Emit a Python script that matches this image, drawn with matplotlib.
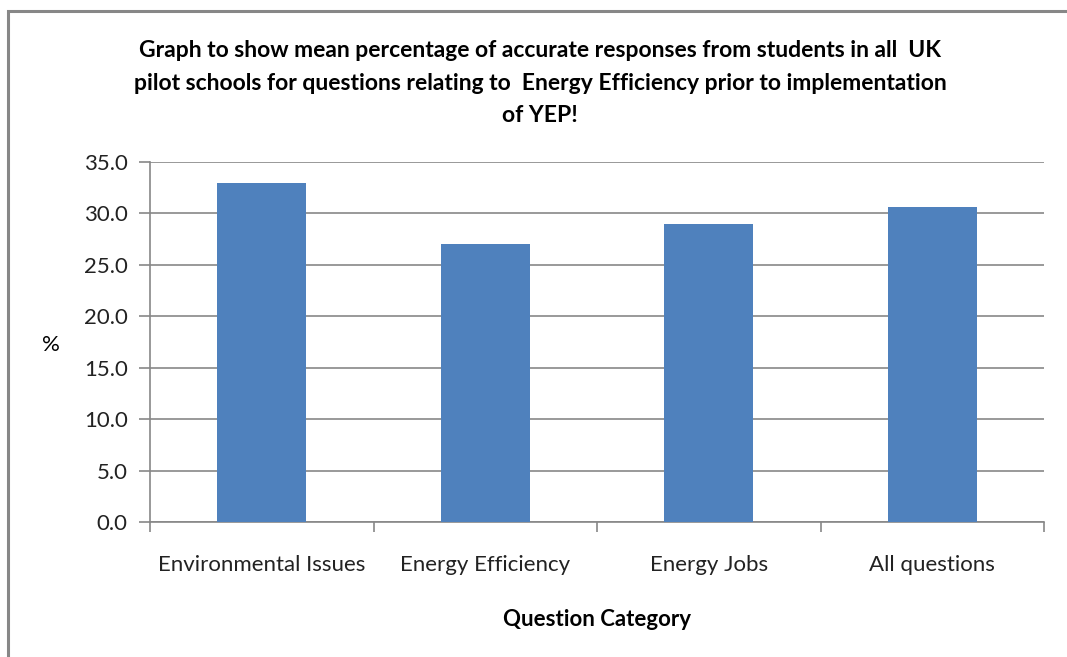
import matplotlib.pyplot as plt
from matplotlib.patches import Rectangle
from matplotlib.ticker import FormatStrFormatter

plt.rcParams['font.family'] = ['Lato', 'DejaVu Sans']

categories = ['Environmental Issues', 'Energy Efficiency', 'Energy Jobs', 'All questions']
values = [33.0, 27.0, 29.0, 30.6]
yticks = [0, 5, 10, 15, 20, 25, 30, 35]

W, H = 1067, 657
fig = plt.figure(figsize=(W / 100, H / 100), dpi=100)

# chart border (runs off the right and bottom of the image)
fig.patches.append(Rectangle((8 / W, -0.1), 1.2, 1 - 11 / H + 0.1, transform=fig.transFigure,
                             fill=False, edgecolor='#878787', linewidth=2.2))

ax = fig.add_axes([150 / W, 1 - 522 / H, (1044 - 150) / W, (522 - 162) / H])

x = range(len(categories))
ax.bar(x, values, width=0.4, color='#4F81BD', zorder=3)

ax.set_xlim(-0.5, len(categories) - 0.5)
ax.set_ylim(0, 35)
ax.set_yticks(yticks)
ax.yaxis.set_major_formatter(FormatStrFormatter('%.1f'))
ax.set_xticks(list(x))
ax.set_xticklabels(categories)
ax.set_xticks([i + 0.5 for i in range(-1, len(categories))], minor=True)

ax.grid(axis='y', color='#878787', linewidth=1.2, zorder=0)
for s in ['top', 'right']:
    ax.spines[s].set_visible(False)
for s in ['left', 'bottom']:
    ax.spines[s].set_color('#878787')
    ax.spines[s].set_linewidth(1.2)

ax.tick_params(axis='y', length=8, color='#878787', width=1.2, labelsize=16, pad=8, labelcolor='#222222')
ax.tick_params(axis='x', which='major', length=0, labelsize=16, pad=24, labelcolor='#222222')
ax.tick_params(axis='x', which='minor', length=7, color='#878787', width=1.2)

ax.set_xlabel('Question Category', fontsize=16, fontweight='bold', labelpad=24)
fig.text(51 / W, 1 - 345 / H, '%', fontsize=16, ha='center', va='center')

fig.text(540 / W, 1 - 83 / H,
         'Graph to show mean percentage of accurate responses from students in all  UK\n'
         'pilot schools for questions relating to  Energy Efficiency prior to implementation\n'
         'of YEP!',
         fontsize=16.5, fontweight='bold', ha='center', va='center', linespacing=1.65)

fig.savefig('out.png', dpi=100)
